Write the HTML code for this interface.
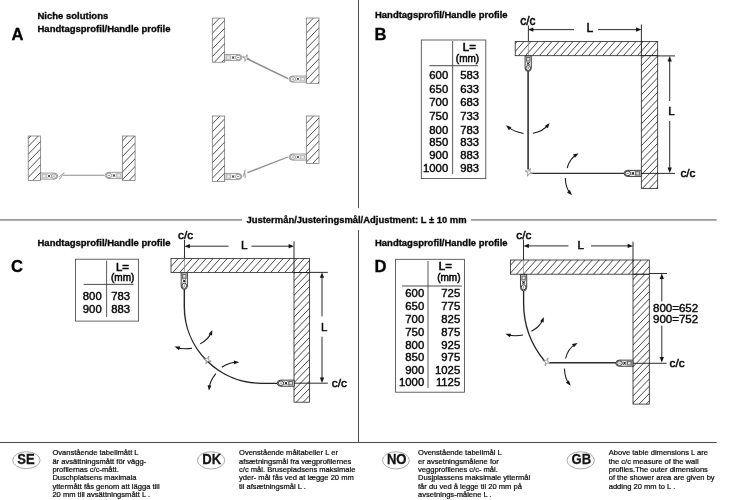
<!DOCTYPE html>
<html><head><meta charset="utf-8"><title>Handle profile dimensions</title>
<style>
html,body{margin:0;padding:0;background:#fff;}
body{width:729px;height:500px;overflow:hidden;font-family:"Liberation Sans",sans-serif;}
svg{display:block;font-family:"Liberation Sans",sans-serif;}
</style></head><body>
<svg width="729" height="500" viewBox="0 0 729 500">
<defs><filter id="soft" x="0" y="0" width="729" height="500" filterUnits="userSpaceOnUse" color-interpolation-filters="sRGB"><feConvolveMatrix order="3" kernelMatrix="0.00041 0.01943 0.00041 0.01943 0.92062 0.01943 0.00041 0.01943 0.00041" edgeMode="duplicate" preserveAlpha="true"/></filter><clipPath id="c1"><rect x="28.2" y="136" width="12.40" height="44.40"/></clipPath><clipPath id="c2"><rect x="122.4" y="136" width="12.70" height="44.40"/></clipPath><clipPath id="c3"><rect x="212.3" y="18.1" width="12.40" height="44.10"/></clipPath><clipPath id="c4"><rect x="306.3" y="18" width="12.70" height="65.30"/></clipPath><clipPath id="c5"><rect x="212.3" y="116" width="12.40" height="65.40"/></clipPath><clipPath id="c6"><rect x="306.3" y="116" width="12.70" height="47.50"/></clipPath><clipPath id="c7"><rect x="515.2" y="41.4" width="142.50" height="14.30"/></clipPath><clipPath id="c8"><rect x="641.3" y="55.7" width="16.40" height="132.90"/></clipPath><clipPath id="c9"><rect x="171" y="258.4" width="138.50" height="14.00"/></clipPath><clipPath id="c10"><rect x="294.0" y="272.4" width="15.50" height="129.80"/></clipPath><clipPath id="c11"><rect x="510.5" y="260" width="138.80" height="14.20"/></clipPath><clipPath id="c12"><rect x="633" y="274.2" width="16.30" height="129.90"/></clipPath></defs>
<g filter="url(#soft)">
<rect width="729" height="500" fill="#fff"/>
<path d="M358.5,0L358.5,208.2" stroke="#4a4a4a" stroke-width="1.0" fill="none" />
<path d="M358.5,230L358.5,442.5" stroke="#4a4a4a" stroke-width="1.0" fill="none" />
<path d="M0,219.95L242,219.95" stroke="#4a4a4a" stroke-width="1.0" fill="none" />
<path d="M471,219.95L716.7,219.95" stroke="#4a4a4a" stroke-width="1.0" fill="none" />
<path d="M0,442.5L716.7,442.5" stroke="#444" stroke-width="1.0" fill="none" />
<text x="246.5" y="223" font-size="9.42" font-weight="bold" textLength="220.1" lengthAdjust="spacingAndGlyphs" fill="#000" stroke="#000" stroke-width="0.3">Justermån/Justeringsmål/Adjustment: L ± 10 mm</text>
<text x="37.5" y="19.2" font-size="9.5" font-weight="bold" fill="#000" stroke="#000" stroke-width="0.3">Niche solutions</text>
<text x="37.5" y="31.7" font-size="9.5" font-weight="bold" textLength="133" lengthAdjust="spacingAndGlyphs" fill="#000" stroke="#000" stroke-width="0.3">Handtagsprofil/Handle profile</text>
<text x="11.6" y="39.9" font-size="16.6" font-weight="bold" fill="#000" stroke="#000" stroke-width="0.3">A</text>
<path clip-path="url(#c1)" d="M-11.85,180.40L30.85,136.00M-4.40,180.40L38.30,136.00M3.05,180.40L45.75,136.00M10.50,180.40L53.20,136.00M17.95,180.40L60.65,136.00M25.40,180.40L68.10,136.00M32.85,180.40L75.55,136.00M40.30,180.40L83.00,136.00" stroke="#2a2a2a" stroke-width="0.85" fill="none"/>
<rect x="28.2" y="136" width="12.40" height="44.40" fill="none" stroke="#666" stroke-width="0.7"/>
<path clip-path="url(#c2)" d="M84.52,180.40L127.21,136.00M91.97,180.40L134.66,136.00M99.42,180.40L142.11,136.00M106.87,180.40L149.56,136.00M114.32,180.40L157.01,136.00M121.77,180.40L164.46,136.00M129.22,180.40L171.91,136.00" stroke="#2a2a2a" stroke-width="0.85" fill="none"/>
<rect x="122.4" y="136" width="12.70" height="44.40" fill="none" stroke="#666" stroke-width="0.7"/>
<g transform="translate(40.7,176.1) rotate(0)">
<path d="M0,-3.05L13.75,-3.05Q16.90,-2.95 17.20,0Q16.90,2.95 13.75,3.05L0,3.05Z" fill="#fff" stroke="#555" stroke-width="0.6"/>
<rect x="1.00" y="-2.3" width="5.20" height="4.6" fill="#bdbdbd"/>
<rect x="2.30" y="-1.15" width="2.60" height="2.3" fill="#efefef"/>
<path d="M6.90,-1.7L9.70,1.7M6.90,1.7L9.70,-1.7" stroke="#444" stroke-width="0.55"/>
<circle cx="8.30" cy="0" r="1.0" fill="#444"/>
<ellipse cx="13.30" cy="0" rx="2.70" ry="2.3" fill="#fff" stroke="#555" stroke-width="0.6"/>
<path d="M12.10,0L14.50,0" stroke="#333" stroke-width="0.55"/>
</g>
<g transform="translate(59,176.0) rotate(0)"><path d="M0,3.2C1.6,3 1.8,1 2.6,0C3.4,-1.2 3.6,-3 5.4,-3.2" stroke="#444" stroke-width="0.6" fill="none"/><path d="M-0.2,1.2L2.6,-1.6" stroke="#666" stroke-width="0.5" fill="none"/></g>
<path d="M62.8,175.3L104.2,175.3" stroke="#8a8a8a" stroke-width="1.1" fill="none" />
<g transform="translate(122.3,175.4) rotate(180)">
<path d="M0,-3.05L13.75,-3.05Q16.90,-2.95 17.20,0Q16.90,2.95 13.75,3.05L0,3.05Z" fill="#fff" stroke="#555" stroke-width="0.6"/>
<rect x="1.00" y="-2.3" width="5.20" height="4.6" fill="#bdbdbd"/>
<rect x="2.30" y="-1.15" width="2.60" height="2.3" fill="#efefef"/>
<path d="M6.90,-1.7L9.70,1.7M6.90,1.7L9.70,-1.7" stroke="#444" stroke-width="0.55"/>
<circle cx="8.30" cy="0" r="1.0" fill="#444"/>
<ellipse cx="13.30" cy="0" rx="2.70" ry="2.3" fill="#fff" stroke="#555" stroke-width="0.6"/>
<path d="M12.10,0L14.50,0" stroke="#333" stroke-width="0.55"/>
</g>
<path clip-path="url(#c3)" d="M177.11,62.20L219.51,18.10M184.56,62.20L226.96,18.10M192.01,62.20L234.41,18.10M199.46,62.20L241.86,18.10M206.91,62.20L249.31,18.10M214.36,62.20L256.76,18.10M221.81,62.20L264.21,18.10" stroke="#2a2a2a" stroke-width="0.85" fill="none"/>
<rect x="212.3" y="18.1" width="12.40" height="44.10" fill="none" stroke="#666" stroke-width="0.7"/>
<path clip-path="url(#c4)" d="M250.72,83.30L313.51,18.00M258.17,83.30L320.96,18.00M265.62,83.30L328.41,18.00M273.07,83.30L335.86,18.00M280.52,83.30L343.31,18.00M287.97,83.30L350.76,18.00M295.42,83.30L358.21,18.00M302.87,83.30L365.66,18.00M310.32,83.30L373.11,18.00M317.77,83.30L380.56,18.00" stroke="#2a2a2a" stroke-width="0.85" fill="none"/>
<rect x="306.3" y="18" width="12.70" height="65.30" fill="none" stroke="#666" stroke-width="0.7"/>
<g transform="translate(224.8,57.5) rotate(0)">
<path d="M0,-3.05L13.75,-3.05Q16.90,-2.95 17.20,0Q16.90,2.95 13.75,3.05L0,3.05Z" fill="#fff" stroke="#555" stroke-width="0.6"/>
<rect x="1.00" y="-2.3" width="5.20" height="4.6" fill="#bdbdbd"/>
<rect x="2.30" y="-1.15" width="2.60" height="2.3" fill="#efefef"/>
<path d="M6.90,-1.7L9.70,1.7M6.90,1.7L9.70,-1.7" stroke="#444" stroke-width="0.55"/>
<circle cx="8.30" cy="0" r="1.0" fill="#444"/>
<ellipse cx="13.30" cy="0" rx="2.70" ry="2.3" fill="#fff" stroke="#555" stroke-width="0.6"/>
<path d="M12.10,0L14.50,0" stroke="#333" stroke-width="0.55"/>
</g>
<polygon points="249.38,59.23 246.43,58.91 244.77,61.38 245.09,58.43 242.62,56.77 245.57,57.09 247.23,54.62 246.91,57.57" fill="#fff" stroke="#555" stroke-width="0.55"/>
<path d="M247.3,58.8L288,78.6" stroke="#8a8a8a" stroke-width="1.6" fill="none" />
<g transform="translate(306.2,79.1) rotate(180)">
<path d="M0,-3.05L13.75,-3.05Q16.90,-2.95 17.20,0Q16.90,2.95 13.75,3.05L0,3.05Z" fill="#fff" stroke="#555" stroke-width="0.6"/>
<rect x="1.00" y="-2.3" width="5.20" height="4.6" fill="#bdbdbd"/>
<rect x="2.30" y="-1.15" width="2.60" height="2.3" fill="#efefef"/>
<path d="M6.90,-1.7L9.70,1.7M6.90,1.7L9.70,-1.7" stroke="#444" stroke-width="0.55"/>
<circle cx="8.30" cy="0" r="1.0" fill="#444"/>
<ellipse cx="13.30" cy="0" rx="2.70" ry="2.3" fill="#fff" stroke="#555" stroke-width="0.6"/>
<path d="M12.10,0L14.50,0" stroke="#333" stroke-width="0.55"/>
</g>
<path clip-path="url(#c5)" d="M149.66,181.40L212.54,116.00M157.11,181.40L219.99,116.00M164.56,181.40L227.44,116.00M172.01,181.40L234.89,116.00M179.46,181.40L242.34,116.00M186.91,181.40L249.79,116.00M194.36,181.40L257.24,116.00M201.81,181.40L264.69,116.00M209.26,181.40L272.14,116.00M216.71,181.40L279.59,116.00M224.16,181.40L287.04,116.00" stroke="#2a2a2a" stroke-width="0.85" fill="none"/>
<rect x="212.3" y="116" width="12.40" height="65.40" fill="none" stroke="#666" stroke-width="0.7"/>
<path clip-path="url(#c6)" d="M267.84,163.50L313.51,116.00M275.29,163.50L320.96,116.00M282.74,163.50L328.41,116.00M290.19,163.50L335.86,116.00M297.64,163.50L343.31,116.00M305.09,163.50L350.76,116.00M312.54,163.50L358.21,116.00" stroke="#2a2a2a" stroke-width="0.85" fill="none"/>
<rect x="306.3" y="116" width="12.70" height="47.50" fill="none" stroke="#666" stroke-width="0.7"/>
<g transform="translate(224.8,176.5) rotate(0)">
<path d="M0,-3.05L13.75,-3.05Q16.90,-2.95 17.20,0Q16.90,2.95 13.75,3.05L0,3.05Z" fill="#fff" stroke="#555" stroke-width="0.6"/>
<rect x="1.00" y="-2.3" width="5.20" height="4.6" fill="#bdbdbd"/>
<rect x="2.30" y="-1.15" width="2.60" height="2.3" fill="#efefef"/>
<path d="M6.90,-1.7L9.70,1.7M6.90,1.7L9.70,-1.7" stroke="#444" stroke-width="0.55"/>
<circle cx="8.30" cy="0" r="1.0" fill="#444"/>
<ellipse cx="13.30" cy="0" rx="2.70" ry="2.3" fill="#fff" stroke="#555" stroke-width="0.6"/>
<path d="M12.10,0L14.50,0" stroke="#333" stroke-width="0.55"/>
</g>
<g transform="translate(242.8,175.5) rotate(-35)"><path d="M0,3.2C1.6,3 1.8,1 2.6,0C3.4,-1.2 3.6,-3 5.4,-3.2" stroke="#444" stroke-width="0.6" fill="none"/><path d="M-0.2,1.2L2.6,-1.6" stroke="#666" stroke-width="0.5" fill="none"/></g>
<path d="M247.4,172.7L287.9,157.0" stroke="#8a8a8a" stroke-width="1.3" fill="none" />
<g transform="translate(306.2,157.1) rotate(180)">
<path d="M0,-3.05L13.75,-3.05Q16.90,-2.95 17.20,0Q16.90,2.95 13.75,3.05L0,3.05Z" fill="#fff" stroke="#555" stroke-width="0.6"/>
<rect x="1.00" y="-2.3" width="5.20" height="4.6" fill="#bdbdbd"/>
<rect x="2.30" y="-1.15" width="2.60" height="2.3" fill="#efefef"/>
<path d="M6.90,-1.7L9.70,1.7M6.90,1.7L9.70,-1.7" stroke="#444" stroke-width="0.55"/>
<circle cx="8.30" cy="0" r="1.0" fill="#444"/>
<ellipse cx="13.30" cy="0" rx="2.70" ry="2.3" fill="#fff" stroke="#555" stroke-width="0.6"/>
<path d="M12.10,0L14.50,0" stroke="#333" stroke-width="0.55"/>
</g>
<rect x="421.3" y="40.0" width="64.50" height="138.60" fill="none" stroke="#3a3a3a" stroke-width="0.8"/>
<path d="M452.6,41L452.6,174" stroke="#444" stroke-width="0.9" fill="none" />
<path d="M429.3,65.7L478,65.7" stroke="#333" stroke-width="0.9" fill="none" />
<text x="462.8" y="51.2" font-size="11.4" fill="#000" stroke="#000" stroke-width="0.65">L=</text>
<text x="455.8" y="62" font-size="10" fill="#000" stroke="#000" stroke-width="0.5">(mm)</text>
<text x="448.2" y="79" font-size="11.3" text-anchor="end" fill="#000" stroke="#000" stroke-width="0.4">600</text>
<text x="460.2" y="79" font-size="11.3" fill="#000" stroke="#000" stroke-width="0.4">583</text>
<text x="448.2" y="92.6" font-size="11.3" text-anchor="end" fill="#000" stroke="#000" stroke-width="0.4">650</text>
<text x="460.2" y="92.6" font-size="11.3" fill="#000" stroke="#000" stroke-width="0.4">633</text>
<text x="448.2" y="105.5" font-size="11.3" text-anchor="end" fill="#000" stroke="#000" stroke-width="0.4">700</text>
<text x="460.2" y="105.5" font-size="11.3" fill="#000" stroke="#000" stroke-width="0.4">683</text>
<text x="448.2" y="119.8" font-size="11.3" text-anchor="end" fill="#000" stroke="#000" stroke-width="0.4">750</text>
<text x="460.2" y="119.8" font-size="11.3" fill="#000" stroke="#000" stroke-width="0.4">733</text>
<text x="448.2" y="134" font-size="11.3" text-anchor="end" fill="#000" stroke="#000" stroke-width="0.4">800</text>
<text x="460.2" y="134" font-size="11.3" fill="#000" stroke="#000" stroke-width="0.4">783</text>
<text x="448.2" y="146" font-size="11.3" text-anchor="end" fill="#000" stroke="#000" stroke-width="0.4">850</text>
<text x="460.2" y="146" font-size="11.3" fill="#000" stroke="#000" stroke-width="0.4">833</text>
<text x="448.2" y="158.6" font-size="11.3" text-anchor="end" fill="#000" stroke="#000" stroke-width="0.4">900</text>
<text x="460.2" y="158.6" font-size="11.3" fill="#000" stroke="#000" stroke-width="0.4">883</text>
<text x="448.2" y="171.5" font-size="11.3" text-anchor="end" fill="#000" stroke="#000" stroke-width="0.4">1000</text>
<text x="460.2" y="171.5" font-size="11.3" fill="#000" stroke="#000" stroke-width="0.4">983</text>
<rect x="75.4" y="259.2" width="63.20" height="61.90" fill="none" stroke="#3a3a3a" stroke-width="0.8"/>
<path d="M106.6,260.7L106.6,317" stroke="#444" stroke-width="0.9" fill="none" />
<path d="M83.6,284.4L133.6,284.4" stroke="#333" stroke-width="0.9" fill="none" />
<text x="116.0" y="271" font-size="11.4" fill="#000" stroke="#000" stroke-width="0.65">L=</text>
<text x="111" y="281" font-size="10" fill="#000" stroke="#000" stroke-width="0.5">(mm)</text>
<text x="101.7" y="300" font-size="11.3" text-anchor="end" fill="#000" stroke="#000" stroke-width="0.4">800</text>
<text x="111.2" y="300" font-size="11.3" fill="#000" stroke="#000" stroke-width="0.4">783</text>
<text x="101.7" y="313" font-size="11.3" text-anchor="end" fill="#000" stroke="#000" stroke-width="0.4">900</text>
<text x="111.2" y="313" font-size="11.3" fill="#000" stroke="#000" stroke-width="0.4">883</text>
<rect x="395.6" y="259.3" width="68.80" height="132.90" fill="none" stroke="#3a3a3a" stroke-width="0.8"/>
<path d="M428,261L428,388" stroke="#444" stroke-width="0.9" fill="none" />
<path d="M402,286L461.8,286" stroke="#333" stroke-width="0.9" fill="none" />
<text x="438.8" y="269.8" font-size="11.4" fill="#000" stroke="#000" stroke-width="0.65">L=</text>
<text x="437.2" y="280.6" font-size="10" fill="#000" stroke="#000" stroke-width="0.5">(mm)</text>
<text x="424.2" y="296.9" font-size="11.3" text-anchor="end" fill="#000" stroke="#000" stroke-width="0.4">600</text>
<text x="460.2" y="296.9" font-size="11.3" text-anchor="end" fill="#000" stroke="#000" stroke-width="0.4">725</text>
<text x="424.2" y="310.1" font-size="11.3" text-anchor="end" fill="#000" stroke="#000" stroke-width="0.4">650</text>
<text x="460.2" y="310.1" font-size="11.3" text-anchor="end" fill="#000" stroke="#000" stroke-width="0.4">775</text>
<text x="424.2" y="322.9" font-size="11.3" text-anchor="end" fill="#000" stroke="#000" stroke-width="0.4">700</text>
<text x="460.2" y="322.9" font-size="11.3" text-anchor="end" fill="#000" stroke="#000" stroke-width="0.4">825</text>
<text x="424.2" y="336.3" font-size="11.3" text-anchor="end" fill="#000" stroke="#000" stroke-width="0.4">750</text>
<text x="460.2" y="336.3" font-size="11.3" text-anchor="end" fill="#000" stroke="#000" stroke-width="0.4">875</text>
<text x="424.2" y="349.2" font-size="11.3" text-anchor="end" fill="#000" stroke="#000" stroke-width="0.4">800</text>
<text x="460.2" y="349.2" font-size="11.3" text-anchor="end" fill="#000" stroke="#000" stroke-width="0.4">925</text>
<text x="424.2" y="361.1" font-size="11.3" text-anchor="end" fill="#000" stroke="#000" stroke-width="0.4">850</text>
<text x="460.2" y="361.1" font-size="11.3" text-anchor="end" fill="#000" stroke="#000" stroke-width="0.4">975</text>
<text x="424.2" y="374" font-size="11.3" text-anchor="end" fill="#000" stroke="#000" stroke-width="0.4">900</text>
<text x="460.2" y="374" font-size="11.3" text-anchor="end" fill="#000" stroke="#000" stroke-width="0.4">1025</text>
<text x="424.2" y="386.2" font-size="11.3" text-anchor="end" fill="#000" stroke="#000" stroke-width="0.4">1000</text>
<text x="460.2" y="386.2" font-size="11.3" text-anchor="end" fill="#000" stroke="#000" stroke-width="0.4">1125</text>
<text x="375" y="18" font-size="9.5" font-weight="bold" textLength="132.6" lengthAdjust="spacingAndGlyphs" fill="#000" stroke="#000" stroke-width="0.3">Handtagsprofil/Handle profile</text>
<text x="374.6" y="39.8" font-size="16.6" font-weight="bold" fill="#000" stroke="#000" stroke-width="0.3">B</text>
<path clip-path="url(#c7)" d="M504.40,55.70L517.17,41.40M511.40,55.70L524.17,41.40M518.40,55.70L531.17,41.40M525.40,55.70L538.17,41.40M532.40,55.70L545.17,41.40M539.40,55.70L552.17,41.40M546.40,55.70L559.17,41.40M553.40,55.70L566.17,41.40M560.40,55.70L573.17,41.40M567.40,55.70L580.17,41.40M574.40,55.70L587.17,41.40M581.40,55.70L594.17,41.40M588.40,55.70L601.17,41.40M595.40,55.70L608.17,41.40M602.40,55.70L615.17,41.40M609.40,55.70L622.17,41.40M616.40,55.70L629.17,41.40M623.40,55.70L636.17,41.40M630.40,55.70L643.17,41.40M637.40,55.70L650.17,41.40M644.40,55.70L657.17,41.40M651.40,55.70L664.17,41.40" stroke="#2a2a2a" stroke-width="0.88" fill="none"/>
<path clip-path="url(#c8)" d="M516.11,188.60L643.90,55.70M523.11,188.60L650.90,55.70M530.11,188.60L657.90,55.70M537.11,188.60L664.90,55.70M544.11,188.60L671.90,55.70M551.11,188.60L678.90,55.70M558.11,188.60L685.90,55.70M565.11,188.60L692.90,55.70M572.11,188.60L699.90,55.70M579.11,188.60L706.90,55.70M586.11,188.60L713.90,55.70M593.11,188.60L720.90,55.70M600.11,188.60L727.90,55.70M607.11,188.60L734.90,55.70M614.11,188.60L741.90,55.70M621.11,188.60L748.90,55.70M628.11,188.60L755.90,55.70M635.11,188.60L762.90,55.70M642.11,188.60L769.90,55.70M649.11,188.60L776.90,55.70M656.11,188.60L783.90,55.70" stroke="#2a2a2a" stroke-width="0.88" fill="none"/>
<rect x="515.2" y="41.4" width="142.50" height="14.30" fill="none" stroke="#111" stroke-width="0.75"/>
<rect x="641.3" y="55.7" width="16.40" height="132.90" fill="none" stroke="#111" stroke-width="0.75"/>
<text x="520.2" y="24.5" font-size="11.9" fill="#000" stroke="#000" stroke-width="0.5">c/c</text>
<path d="M528.4,25.5L528.4,41.4" stroke="#111" stroke-width="0.9" fill="none" />
<path d="M528.4,41.4L528.4,56" stroke="#777" stroke-width="0.6" fill="none" />
<path d="M641.4,24.5L641.4,55.8" stroke="#111" stroke-width="0.9" fill="none" />
<path d="M531,29.6L574,29.6" stroke="#111" stroke-width="0.9" fill="none" />
<path d="M598,29.6L638.4,29.6" stroke="#111" stroke-width="0.9" fill="none" />
<path d="M528.00,29.60L533.40,27.45L533.40,31.75Z" fill="#111"/>
<path d="M641.40,29.60L636.00,31.75L636.00,27.45Z" fill="#111"/>
<text x="586.5" y="32.0" font-size="12.2" fill="#000" stroke="#000" stroke-width="0.5">L</text>
<g transform="translate(528.2,56) rotate(90)">
<path d="M0,-3.1L12.10,-3.1Q15.30,-3.00 15.60,0Q15.30,3.00 12.10,3.1L0,3.1Z" fill="#fff" stroke="#1a1a1a" stroke-width="0.85"/>
<rect x="0.91" y="-2.3" width="4.72" height="4.6" fill="#6e6e6e"/>
<rect x="2.09" y="-1.15" width="2.36" height="2.3" fill="#e4e4e4"/>
<path d="M6.13,-1.7L8.93,1.7M6.13,1.7L8.93,-1.7" stroke="#222" stroke-width="0.8"/>
<circle cx="7.53" cy="0" r="1.0" fill="#222"/>
<ellipse cx="12.06" cy="0" rx="2.45" ry="2.3" fill="#fff" stroke="#1a1a1a" stroke-width="0.85"/>
<path d="M10.86,0L13.26,0" stroke="#333" stroke-width="0.55"/>
</g>
<path d="M528.1,71.5L528.1,169.6" stroke="#2e2e2e" stroke-width="1.6" fill="none" />
<path d="M531.8,173.4L624.4,173.4" stroke="#2a2a2a" stroke-width="1.4" fill="none" />
<g transform="translate(641.2,173.4) rotate(180)">
<path d="M0,-3.05L13.75,-3.05Q16.90,-2.95 17.20,0Q16.90,2.95 13.75,3.05L0,3.05Z" fill="#fff" stroke="#1a1a1a" stroke-width="0.85"/>
<rect x="1.00" y="-2.3" width="5.20" height="4.6" fill="#6e6e6e"/>
<rect x="2.30" y="-1.15" width="2.60" height="2.3" fill="#e4e4e4"/>
<path d="M6.90,-1.7L9.70,1.7M6.90,1.7L9.70,-1.7" stroke="#222" stroke-width="0.8"/>
<circle cx="8.30" cy="0" r="1.0" fill="#222"/>
<ellipse cx="13.30" cy="0" rx="2.70" ry="2.3" fill="#fff" stroke="#1a1a1a" stroke-width="0.85"/>
<path d="M12.10,0L14.50,0" stroke="#333" stroke-width="0.55"/>
</g>
<path d="M641.3,173.4L657.5,173.4" stroke="#111" stroke-width="0.9" fill="none" />
<path d="M657.6,55.9L675,55.9" stroke="#111" stroke-width="0.9" fill="none" />
<path d="M657.5,173.4L675,173.4" stroke="#111" stroke-width="0.9" fill="none" />
<path d="M669.7,59.1L669.7,101" stroke="#111" stroke-width="0.9" fill="none" />
<path d="M669.7,121L669.7,169.9" stroke="#111" stroke-width="0.9" fill="none" />
<path d="M669.70,56.10L671.85,61.50L667.55,61.50Z" fill="#111"/>
<path d="M669.70,172.90L667.55,167.50L671.85,167.50Z" fill="#111"/>
<text x="668.2" y="115.0" font-size="11.5" fill="#000" stroke="#000" stroke-width="0.5">L</text>
<text x="680.4" y="177.1" font-size="11.8" fill="#000" stroke="#000" stroke-width="0.5">c/c</text>
<polygon points="532.85,173.74 529.40,173.37 527.46,176.25 527.83,172.80 524.95,170.86 528.40,171.23 530.34,168.35 529.97,171.80" fill="#fff" stroke="#555" stroke-width="0.55"/>
<path d="M523.5,133.4Q513.5,131.5 507.91,126.81" stroke="#111" stroke-width="1.05" fill="none" />
<path d="M506.00,125.20L511.36,127.22L508.91,130.13Z" fill="#111"/>
<path d="M533,133.2Q543,131.5 548.08,124.88" stroke="#111" stroke-width="1.05" fill="none" />
<path d="M549.60,122.90L547.82,128.34L544.81,126.03Z" fill="#111"/>
<path d="M567.2,168Q569.5,159 576.48,154.63" stroke="#111" stroke-width="1.05" fill="none" />
<path d="M578.60,153.30L575.03,157.78L573.02,154.56Z" fill="#111"/>
<path d="M565.3,178Q565.6,188 570.34,193.33" stroke="#111" stroke-width="1.05" fill="none" />
<path d="M572.00,195.20L566.99,192.43L569.83,189.90Z" fill="#111"/>
<text x="37.5" y="246.1" font-size="9.5" font-weight="bold" textLength="133" lengthAdjust="spacingAndGlyphs" fill="#000" stroke="#000" stroke-width="0.3">Handtagsprofil/Handle profile</text>
<text x="11" y="271.6" font-size="16.6" font-weight="bold" fill="#000" stroke="#000" stroke-width="0.3">C</text>
<path clip-path="url(#c9)" d="M158.80,272.40L171.30,258.40M165.80,272.40L178.30,258.40M172.80,272.40L185.30,258.40M179.80,272.40L192.30,258.40M186.80,272.40L199.30,258.40M193.80,272.40L206.30,258.40M200.80,272.40L213.30,258.40M207.80,272.40L220.30,258.40M214.80,272.40L227.30,258.40M221.80,272.40L234.30,258.40M228.80,272.40L241.30,258.40M235.80,272.40L248.30,258.40M242.80,272.40L255.30,258.40M249.80,272.40L262.30,258.40M256.80,272.40L269.30,258.40M263.80,272.40L276.30,258.40M270.80,272.40L283.30,258.40M277.80,272.40L290.30,258.40M284.80,272.40L297.30,258.40M291.80,272.40L304.30,258.40M298.80,272.40L311.30,258.40M305.80,272.40L318.30,258.40" stroke="#2a2a2a" stroke-width="0.88" fill="none"/>
<path clip-path="url(#c10)" d="M170.23,402.20L295.04,272.40M177.23,402.20L302.04,272.40M184.23,402.20L309.04,272.40M191.23,402.20L316.04,272.40M198.23,402.20L323.04,272.40M205.23,402.20L330.04,272.40M212.23,402.20L337.04,272.40M219.23,402.20L344.04,272.40M226.23,402.20L351.04,272.40M233.23,402.20L358.04,272.40M240.23,402.20L365.04,272.40M247.23,402.20L372.04,272.40M254.23,402.20L379.04,272.40M261.23,402.20L386.04,272.40M268.23,402.20L393.04,272.40M275.23,402.20L400.04,272.40M282.23,402.20L407.04,272.40M289.23,402.20L414.04,272.40M296.23,402.20L421.04,272.40M303.23,402.20L428.04,272.40" stroke="#2a2a2a" stroke-width="0.88" fill="none"/>
<rect x="171" y="258.4" width="138.50" height="14.00" fill="none" stroke="#111" stroke-width="0.75"/>
<rect x="294.0" y="272.4" width="15.50" height="129.80" fill="none" stroke="#111" stroke-width="0.75"/>
<text x="178.0" y="239" font-size="11.8" fill="#000" stroke="#000" stroke-width="0.5">c/c</text>
<path d="M184.5,240L184.5,258.4" stroke="#111" stroke-width="0.9" fill="none" />
<path d="M184.5,258.4L184.5,273" stroke="#777" stroke-width="0.6" fill="none" />
<path d="M294.0,241.3L294.0,272.3" stroke="#111" stroke-width="0.9" fill="none" />
<path d="M187.5,246.2L228.5,246.2" stroke="#111" stroke-width="0.9" fill="none" />
<path d="M251.5,246.2L291.0,246.2" stroke="#111" stroke-width="0.9" fill="none" />
<path d="M184.50,246.20L189.90,244.05L189.90,248.35Z" fill="#111"/>
<path d="M294.00,246.20L288.60,248.35L288.60,244.05Z" fill="#111"/>
<text x="241.0" y="249.1" font-size="11.8" fill="#000" stroke="#000" stroke-width="0.5">L</text>
<g transform="translate(184.3,272.8) rotate(90)">
<path d="M0,-3.1L13.30,-3.1Q16.50,-3.00 16.80,0Q16.50,3.00 13.30,3.1L0,3.1Z" fill="#fff" stroke="#1a1a1a" stroke-width="0.85"/>
<rect x="0.98" y="-2.3" width="5.08" height="4.6" fill="#6e6e6e"/>
<rect x="2.25" y="-1.15" width="2.54" height="2.3" fill="#e4e4e4"/>
<path d="M6.71,-1.7L9.51,1.7M6.71,1.7L9.51,-1.7" stroke="#222" stroke-width="0.8"/>
<circle cx="8.11" cy="0" r="1.0" fill="#222"/>
<ellipse cx="12.99" cy="0" rx="2.64" ry="2.3" fill="#fff" stroke="#1a1a1a" stroke-width="0.85"/>
<path d="M11.79,0L14.19,0" stroke="#333" stroke-width="0.55"/>
</g>
<path d="M184.3,289.4L184.3,306.4A77,77 0 0 0 261.3,383.3L277,383.3" stroke="#1c1c1c" stroke-width="1.35" fill="none" />
<g transform="translate(294.3,383.2) rotate(180)">
<path d="M0,-3.05L13.75,-3.05Q16.90,-2.95 17.20,0Q16.90,2.95 13.75,3.05L0,3.05Z" fill="#fff" stroke="#1a1a1a" stroke-width="0.85"/>
<rect x="1.00" y="-2.3" width="5.20" height="4.6" fill="#6e6e6e"/>
<rect x="2.30" y="-1.15" width="2.60" height="2.3" fill="#e4e4e4"/>
<path d="M6.90,-1.7L9.70,1.7M6.90,1.7L9.70,-1.7" stroke="#222" stroke-width="0.8"/>
<circle cx="8.30" cy="0" r="1.0" fill="#222"/>
<ellipse cx="13.30" cy="0" rx="2.70" ry="2.3" fill="#fff" stroke="#1a1a1a" stroke-width="0.85"/>
<path d="M12.10,0L14.50,0" stroke="#333" stroke-width="0.55"/>
</g>
<path d="M309.5,272.4L327.8,272.4" stroke="#111" stroke-width="0.9" fill="none" />
<path d="M294.0,383.2L327.8,383.2" stroke="#111" stroke-width="0.9" fill="none" />
<path d="M322,275.4L322,316.4" stroke="#111" stroke-width="0.9" fill="none" />
<path d="M322,336.7L322,379.9" stroke="#111" stroke-width="0.9" fill="none" />
<path d="M322.00,272.40L324.15,277.80L319.85,277.80Z" fill="#111"/>
<path d="M322.00,382.90L319.85,377.50L324.15,377.50Z" fill="#111"/>
<text x="320.9" y="330.5" font-size="11.5" fill="#000" stroke="#000" stroke-width="0.4">L</text>
<text x="331.8" y="386.7" font-size="11.8" fill="#000" stroke="#000" stroke-width="0.5">c/c</text>
<polygon points="211.35,361.44 207.90,361.07 205.96,363.95 206.33,360.50 203.45,358.56 206.90,358.93 208.84,356.05 208.47,359.50" fill="#fff" stroke="#555" stroke-width="0.55"/>
<path d="M200.1,343.9Q208.5,339.5 211.38,332.22" stroke="#111" stroke-width="1.05" fill="none" />
<path d="M212.30,329.90L212.08,335.62L208.55,334.22Z" fill="#111"/>
<path d="M192,348.2Q183,349.5 176.87,347.41" stroke="#111" stroke-width="1.05" fill="none" />
<path d="M174.50,346.60L180.22,346.55L179.00,350.14Z" fill="#111"/>
<path d="M221.8,367.2Q229.5,362.3 236.80,362.30" stroke="#111" stroke-width="1.05" fill="none" />
<path d="M239.30,362.30L233.90,364.20L233.90,360.40Z" fill="#111"/>
<path d="M215.8,373.6Q209.8,381 209.21,388.21" stroke="#111" stroke-width="1.05" fill="none" />
<path d="M209.00,390.70L207.55,385.16L211.34,385.47Z" fill="#111"/>
<text x="375" y="246.1" font-size="9.5" font-weight="bold" textLength="132.6" lengthAdjust="spacingAndGlyphs" fill="#000" stroke="#000" stroke-width="0.3">Handtagsprofil/Handle profile</text>
<text x="374.6" y="271.7" font-size="16.6" font-weight="bold" fill="#000" stroke="#000" stroke-width="0.3">D</text>
<path clip-path="url(#c11)" d="M502.50,274.20L515.18,260.00M509.50,274.20L522.18,260.00M516.50,274.20L529.18,260.00M523.50,274.20L536.18,260.00M530.50,274.20L543.18,260.00M537.50,274.20L550.18,260.00M544.50,274.20L557.18,260.00M551.50,274.20L564.18,260.00M558.50,274.20L571.18,260.00M565.50,274.20L578.18,260.00M572.50,274.20L585.18,260.00M579.50,274.20L592.18,260.00M586.50,274.20L599.18,260.00M593.50,274.20L606.18,260.00M600.50,274.20L613.18,260.00M607.50,274.20L620.18,260.00M614.50,274.20L627.18,260.00M621.50,274.20L634.18,260.00M628.50,274.20L641.18,260.00M635.50,274.20L648.18,260.00M642.50,274.20L655.18,260.00" stroke="#2a2a2a" stroke-width="0.88" fill="none"/>
<path clip-path="url(#c12)" d="M513.13,404.10L638.04,274.20M520.13,404.10L645.04,274.20M527.13,404.10L652.04,274.20M534.13,404.10L659.04,274.20M541.13,404.10L666.04,274.20M548.13,404.10L673.04,274.20M555.13,404.10L680.04,274.20M562.13,404.10L687.04,274.20M569.13,404.10L694.04,274.20M576.13,404.10L701.04,274.20M583.13,404.10L708.04,274.20M590.13,404.10L715.04,274.20M597.13,404.10L722.04,274.20M604.13,404.10L729.04,274.20M611.13,404.10L736.04,274.20M618.13,404.10L743.04,274.20M625.13,404.10L750.04,274.20M632.13,404.10L757.04,274.20M639.13,404.10L764.04,274.20M646.13,404.10L771.04,274.20" stroke="#2a2a2a" stroke-width="0.88" fill="none"/>
<rect x="510.5" y="260" width="138.80" height="14.20" fill="none" stroke="#111" stroke-width="0.75"/>
<rect x="633" y="274.2" width="16.30" height="129.90" fill="none" stroke="#111" stroke-width="0.75"/>
<text x="516.3" y="238.6" font-size="11.8" fill="#000" stroke="#000" stroke-width="0.5">c/c</text>
<path d="M523.5,239.5L523.5,260" stroke="#111" stroke-width="0.9" fill="none" />
<path d="M523.5,260L523.5,274.5" stroke="#777" stroke-width="0.6" fill="none" />
<path d="M633,241.6L633,274" stroke="#111" stroke-width="0.9" fill="none" />
<path d="M526.5,245.9L568.4,245.9" stroke="#111" stroke-width="0.9" fill="none" />
<path d="M591,245.9L630,245.9" stroke="#111" stroke-width="0.9" fill="none" />
<path d="M523.50,245.90L528.90,243.75L528.90,248.05Z" fill="#111"/>
<path d="M633.00,245.90L627.60,248.05L627.60,243.75Z" fill="#111"/>
<text x="577.6" y="249.3" font-size="11.6" fill="#000" stroke="#000" stroke-width="0.5">L</text>
<g transform="translate(523.6,274.5) rotate(90)">
<path d="M0,-3.1L13.00,-3.1Q16.20,-3.00 16.50,0Q16.20,3.00 13.00,3.1L0,3.1Z" fill="#fff" stroke="#1a1a1a" stroke-width="0.85"/>
<rect x="0.96" y="-2.3" width="4.99" height="4.6" fill="#6e6e6e"/>
<rect x="2.21" y="-1.15" width="2.49" height="2.3" fill="#e4e4e4"/>
<path d="M6.56,-1.7L9.36,1.7M6.56,1.7L9.36,-1.7" stroke="#222" stroke-width="0.8"/>
<circle cx="7.96" cy="0" r="1.0" fill="#222"/>
<ellipse cx="12.76" cy="0" rx="2.59" ry="2.3" fill="#fff" stroke="#1a1a1a" stroke-width="0.85"/>
<path d="M11.56,0L13.96,0" stroke="#333" stroke-width="0.55"/>
</g>
<path d="M523.6,290.9L523.6,303A90.6,90.6 0 0 0 544.5,360.9" stroke="#1c1c1c" stroke-width="1.3" fill="none" />
<path d="M549,362.75L616.4,362.75" stroke="#2a2a2a" stroke-width="1.5" fill="none" />
<g transform="translate(632.9,363.2) rotate(180)">
<path d="M0,-3.05L13.75,-3.05Q16.90,-2.95 17.20,0Q16.90,2.95 13.75,3.05L0,3.05Z" fill="#fff" stroke="#1a1a1a" stroke-width="0.85"/>
<rect x="1.00" y="-2.3" width="5.20" height="4.6" fill="#6e6e6e"/>
<rect x="2.30" y="-1.15" width="2.60" height="2.3" fill="#e4e4e4"/>
<path d="M6.90,-1.7L9.70,1.7M6.90,1.7L9.70,-1.7" stroke="#222" stroke-width="0.8"/>
<circle cx="8.30" cy="0" r="1.0" fill="#222"/>
<ellipse cx="13.30" cy="0" rx="2.70" ry="2.3" fill="#fff" stroke="#1a1a1a" stroke-width="0.85"/>
<path d="M12.10,0L14.50,0" stroke="#333" stroke-width="0.55"/>
</g>
<path d="M649.4,273.5L667,273.5" stroke="#111" stroke-width="0.9" fill="none" />
<path d="M633,363.3L666.6,363.3" stroke="#111" stroke-width="0.9" fill="none" />
<path d="M661.8,276.6L661.8,301.4" stroke="#111" stroke-width="0.9" fill="none" />
<path d="M661.8,325.7L661.8,359.5" stroke="#111" stroke-width="0.9" fill="none" />
<path d="M661.80,273.60L663.95,279.00L659.65,279.00Z" fill="#111"/>
<path d="M661.80,362.50L659.65,357.10L663.95,357.10Z" fill="#111"/>
<text x="653" y="312" font-size="11.5" fill="#000" stroke="#000" stroke-width="0.4">800=652</text>
<text x="653" y="323.4" font-size="11.5" fill="#000" stroke="#000" stroke-width="0.4">900=752</text>
<text x="669.5" y="366.8" font-size="11.8" fill="#000" stroke="#000" stroke-width="0.5">c/c</text>
<polygon points="550.55,363.24 547.10,362.87 545.16,365.75 545.53,362.30 542.65,360.36 546.10,360.73 548.04,357.85 547.67,361.30" fill="#fff" stroke="#555" stroke-width="0.55"/>
<path d="M531.4,331.2Q540,327 542.92,319.24" stroke="#111" stroke-width="1.05" fill="none" />
<path d="M543.80,316.90L543.68,322.62L540.12,321.29Z" fill="#111"/>
<path d="M523,335.1Q514,336.8 507.76,334.62" stroke="#111" stroke-width="1.05" fill="none" />
<path d="M505.40,333.80L511.12,333.78L509.87,337.37Z" fill="#111"/>
<path d="M565.6,358.5Q568,348.5 575.44,344.16" stroke="#111" stroke-width="1.05" fill="none" />
<path d="M577.60,342.90L573.89,347.26L571.98,343.98Z" fill="#111"/>
<path d="M564.4,368.4Q564.8,378.5 569.21,383.87" stroke="#111" stroke-width="1.05" fill="none" />
<path d="M570.80,385.80L565.90,382.83L568.84,380.42Z" fill="#111"/>
<ellipse cx="26.35" cy="460.20" rx="13.70" ry="8.45" fill="#fff" stroke="#777" stroke-width="0.65"/>
<text transform="translate(26.1,464) scale(0.985,1.09)" font-size="13.3" font-weight="bold" text-anchor="middle" fill="#111" stroke="#111" stroke-width="0.25">SE</text>
<ellipse cx="211.1" cy="460.35" rx="13.65" ry="8.60" fill="#fff" stroke="#777" stroke-width="0.65"/>
<text transform="translate(211.8,464) scale(0.985,1.09)" font-size="13.3" font-weight="bold" text-anchor="middle" fill="#111" stroke="#111" stroke-width="0.25">DK</text>
<ellipse cx="395.9" cy="460.35" rx="13.45" ry="8.60" fill="#fff" stroke="#777" stroke-width="0.65"/>
<text transform="translate(396.7,464) scale(0.985,1.09)" font-size="13.3" font-weight="bold" text-anchor="middle" fill="#111" stroke="#111" stroke-width="0.25">NO</text>
<ellipse cx="580.7" cy="460.35" rx="13.70" ry="8.60" fill="#fff" stroke="#777" stroke-width="0.65"/>
<text transform="translate(581.3,464) scale(0.985,1.09)" font-size="13.3" font-weight="bold" text-anchor="middle" fill="#111" stroke="#111" stroke-width="0.25">GB</text>
<text x="52.4" y="455.1" font-size="7.57" fill="#000" stroke="#000" stroke-width="0.2">Ovanstående tabellmått L</text>
<text x="52.4" y="463.7" font-size="7.57" fill="#000" stroke="#000" stroke-width="0.2">är avsättningsmått för vägg-</text>
<text x="52.4" y="471.9" font-size="7.57" fill="#000" stroke="#000" stroke-width="0.2">profilernas c/c-mått.</text>
<text x="52.4" y="480.4" font-size="7.57" fill="#000" stroke="#000" stroke-width="0.2">Duschplatsens maximala</text>
<text x="52.4" y="489.1" font-size="7.57" fill="#000" stroke="#000" stroke-width="0.2">yttermått fås genom att lägga till</text>
<text x="52.4" y="497.4" font-size="7.57" fill="#000" stroke="#000" stroke-width="0.2">20 mm till avsättningsmått L .</text>
<text x="239" y="455.1" font-size="7.57" fill="#000" stroke="#000" stroke-width="0.2">Ovenstående måltabeller L er</text>
<text x="239" y="463.7" font-size="7.57" fill="#000" stroke="#000" stroke-width="0.2">afsætningsmål fra vægprofilernes</text>
<text x="239" y="471.9" font-size="7.57" fill="#000" stroke="#000" stroke-width="0.2">c/c mål. Brusepladsens maksimale</text>
<text x="239" y="480.4" font-size="7.57" fill="#000" stroke="#000" stroke-width="0.2">yder- mål fås ved at lægge 20 mm</text>
<text x="239" y="489.1" font-size="7.57" fill="#000" stroke="#000" stroke-width="0.2">til afsætningsmål L .</text>
<text x="418" y="455.1" font-size="7.57" fill="#000" stroke="#000" stroke-width="0.2">Ovenstående tabellmål L</text>
<text x="418" y="463.7" font-size="7.57" fill="#000" stroke="#000" stroke-width="0.2">er avsetningsmålene for</text>
<text x="418" y="471.9" font-size="7.57" fill="#000" stroke="#000" stroke-width="0.2">veggprofilenes c/c- mål.</text>
<text x="418" y="480.4" font-size="7.57" fill="#000" stroke="#000" stroke-width="0.2">Dusjplassens maksimale yttermål</text>
<text x="418" y="489.1" font-size="7.57" fill="#000" stroke="#000" stroke-width="0.2">får du ved å legge til 20 mm på</text>
<text x="418" y="497.4" font-size="7.57" fill="#000" stroke="#000" stroke-width="0.2">avsetnings-målene L .</text>
<text x="608.7" y="455.1" font-size="7.57" fill="#000" stroke="#000" stroke-width="0.2">Above table dimensions L are</text>
<text x="608.7" y="463.7" font-size="7.57" fill="#000" stroke="#000" stroke-width="0.2">the c/c measure of the wall</text>
<text x="608.7" y="471.9" font-size="7.57" fill="#000" stroke="#000" stroke-width="0.2">profiles.The outer dimensions</text>
<text x="608.7" y="480.4" font-size="7.57" fill="#000" stroke="#000" stroke-width="0.2">of the shower area are given by</text>
<text x="608.7" y="489.1" font-size="7.57" fill="#000" stroke="#000" stroke-width="0.2">adding 20 mm to L .</text>
</g>
</svg>
</body></html>
